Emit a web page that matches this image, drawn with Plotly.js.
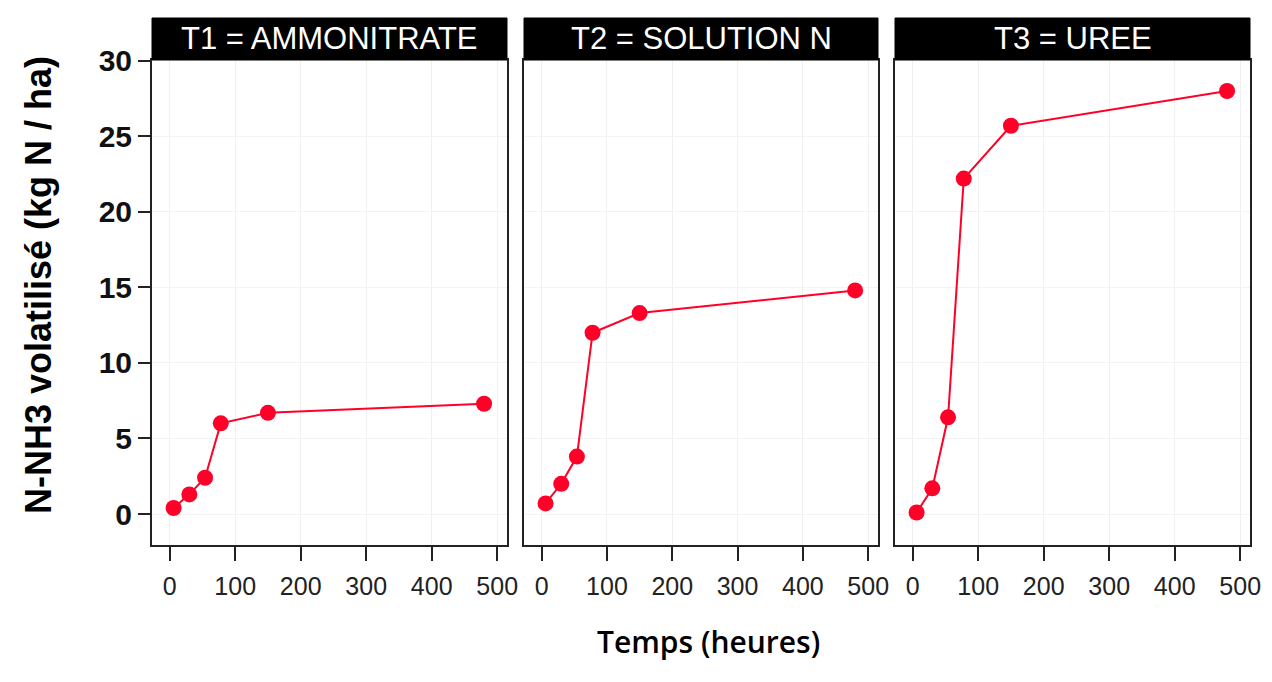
<!DOCTYPE html>
<html>
<head>
<meta charset="utf-8">
<script src="https://cdn.plot.ly/plotly-3.0.1.min.js"></script>
<style>html,body{margin:0;padding:0;background:#fff;}#chart{width:1272px;height:682px;}</style>
</head>
<body>
<div id="chart"></div>
<script>
// Data
const hours = [6, 30, 54, 78, 150, 480];
const t1 = [0.4, 1.3, 2.4, 6.0, 6.7, 7.3];
const t2 = [0.7, 2.0, 3.8, 12.0, 13.3, 14.8];
const t3 = [0.1, 1.7, 6.4, 22.2, 25.7, 28.0];
const panelTitles = ["T1 = AMMONITRATE", "T2 = SOLUTION N", "T3 = UREE"];
const xTicks = [0, 100, 200, 300, 400, 500];
const yTicks = [0, 5, 10, 15, 20, 25, 30];
const yTitle = "N-NH3 volatilisé (kg N / ha)";
const xTitle = "Temps (heures)";

const W = 1272, H = 682;
const series = [t1, t2, t3];
const panelPx = [[152, 507], [524, 878], [895, 1250]];
const plotTop = 60, plotBottom = 545, headTop = 18;
const red = "rgb(255,0,40)";

const traces = series.map((ys, i) => ({
  x: hours, y: ys, type: "scatter", mode: "lines+markers",
  xaxis: i === 0 ? "x" : "x" + (i + 1),
  yaxis: i === 0 ? "y" : "y" + (i + 1),
  line: {color: red, width: 2},
  marker: {color: red, size: 16},
  showlegend: false, hoverinfo: "skip"
}));

const layout = {
  width: W, height: H,
  margin: {l: 0, r: 0, t: 0, b: 0},
  paper_bgcolor: "#fff", plot_bgcolor: "#fff",
  font: {family: "Liberation Sans, Arial, sans-serif", color: "#222"},
  shapes: [], annotations: []
};

const yDom = [(H - plotBottom) / H, (H - plotTop) / H];
panelPx.forEach((p, i) => {
  const xk = i === 0 ? "xaxis" : "xaxis" + (i + 1);
  const yk = i === 0 ? "yaxis" : "yaxis" + (i + 1);
  const xr = i === 0 ? "x" : "x" + (i + 1);
  layout[xk] = {
    domain: [p[0] / W, p[1] / W], anchor: i === 0 ? "y" : "y" + (i + 1),
    range: [-27, 515], tickvals: xTicks, ticktext: xTicks.map(String),
    ticks: "outside", ticklen: 14, tickwidth: 2, tickcolor: "#222",
    ticklabelstandoff: 4,
    showline: true, mirror: true, linecolor: "#222", linewidth: 2,
    showgrid: true, gridcolor: "#f0f0f0", gridwidth: 1, zeroline: false,
    tickfont: {size: 25, color: "#222", family: "Liberation Sans, Arial, sans-serif"},
    fixedrange: true
  };
  layout[yk] = {
    domain: yDom, anchor: xr,
    range: [-2.05, 30.05], tickvals: yTicks, ticktext: yTicks.map(String),
    ticks: i === 0 ? "outside" : "", ticklen: 12, tickwidth: 2, tickcolor: "#222",
    showticklabels: i === 0,
    showline: true, mirror: true, linecolor: "#222", linewidth: 2,
    showgrid: true, gridcolor: "#f3f3f3", gridwidth: 1, zeroline: false,
    tickfont: {size: 30, color: "#111", weight: "bold", family: "Liberation Sans, Arial, sans-serif"},
    fixedrange: true
  };
  layout.shapes.push({
    type: "rect", xref: "paper", yref: "paper",
    x0: p[0] / W, x1: p[1] / W, y0: (H - plotTop) / H, y1: (H - headTop) / H,
    fillcolor: "#000", line: {color: "#000", width: 1}, layer: "above"
  });
  layout.annotations.push({
    text: panelTitles[i], xref: "paper", yref: "paper",
    x: (p[0] + p[1]) / 2 / W, y: (H - (plotTop + headTop) / 2) / H,
    xanchor: "center", yanchor: "middle", showarrow: false,
    font: {size: 31, color: "#fff", family: "Liberation Sans, Arial, sans-serif"}
  });
});

layout.annotations.push({
  text: yTitle, xref: "paper", yref: "paper",
  x: 38 / W, y: (H - 285) / H, xanchor: "center", yanchor: "middle",
  textangle: -90, showarrow: false,
  font: {size: 36, color: "#000", weight: "bold", family: "Liberation Sans Narrow, Arial Narrow, Liberation Sans, sans-serif"}
});
layout.annotations.push({
  text: xTitle, xref: "paper", yref: "paper",
  x: 708 / W, y: (H - 641) / H, xanchor: "center", yanchor: "middle",
  showarrow: false,
  font: {size: 30, color: "#000", weight: 600, family: "Open Sans, sans-serif"}
});

Plotly.newPlot("chart", traces, layout, {displayModeBar: false, staticPlot: true});
</script>
</body>
</html>
